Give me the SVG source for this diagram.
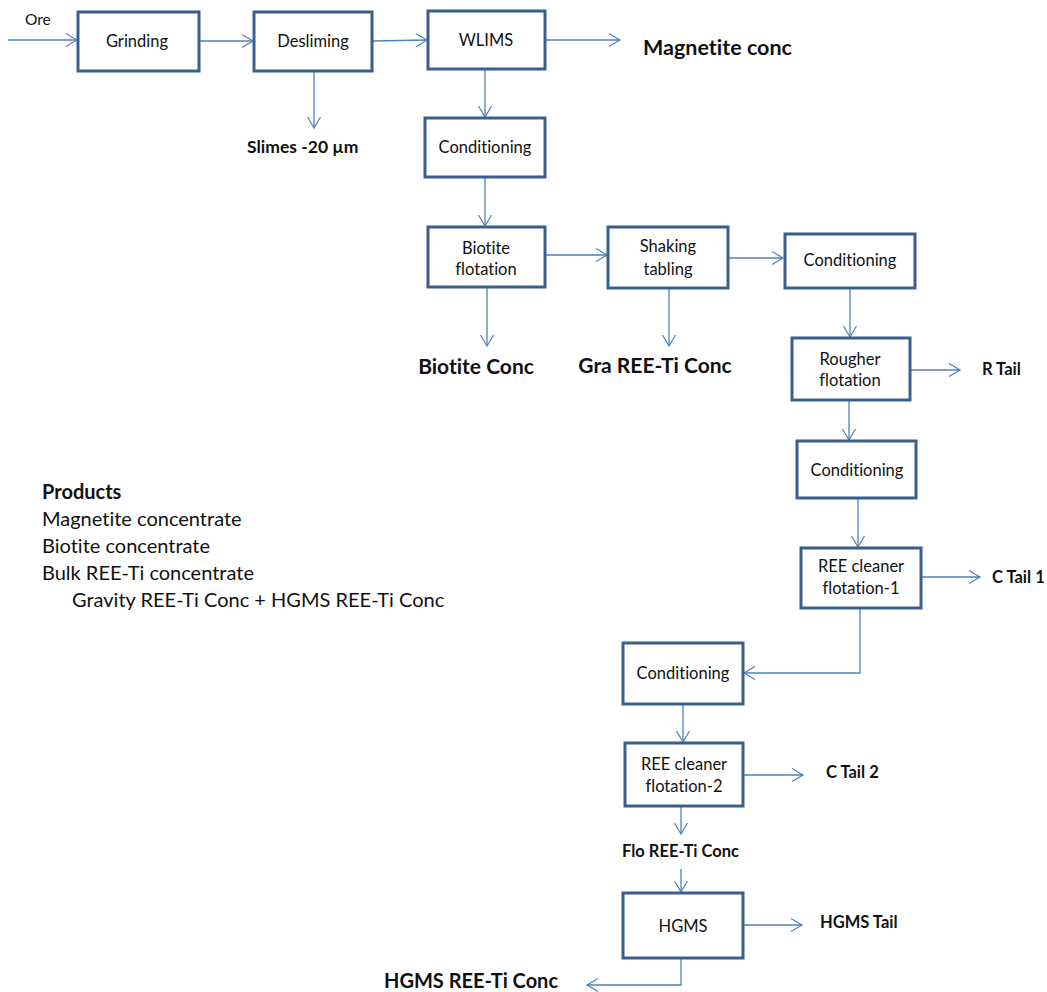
<svg xmlns="http://www.w3.org/2000/svg" width="1047" height="992" viewBox="0 0 1047 992">
<defs>
<marker id="arr" markerUnits="userSpaceOnUse" markerWidth="14" markerHeight="16" refX="12" refY="8" orient="auto">
<path d="M1,1.5 L12,8 L1,14.5" fill="none" stroke="#4F81BD" stroke-width="1.2"/>
</marker>
<style>
text{font-variant-ligatures:none}
.box{fill:#fff;stroke:#3A5F8F;stroke-width:3}
.t{font-family:Lato,"Open Sans","Liberation Sans",sans-serif;font-size:16.5px;fill:#111;text-anchor:middle}
.c{fill:none;stroke:#4F81BD;stroke-width:1.3;marker-end:url(#arr)}
.lb{font-family:Lato,"Open Sans","Liberation Sans",sans-serif;font-weight:bold;fill:#111}
.p{font-family:Lato,"Open Sans","Liberation Sans",sans-serif;font-size:20px;fill:#111}
</style>
</defs>
<rect width="1047" height="992" fill="#fff"/>
<g id="connectors">
<path class="c" d="M8,40 H77"/>
<path class="c" d="M199,41 H253"/>
<path class="c" d="M372,41 L427,40"/>
<path class="c" d="M545,40 H620"/>
<path class="c" d="M314,71 V128"/>
<path class="c" d="M485,69 V117"/>
<path class="c" d="M485,177 V226"/>
<path class="c" d="M545,255 H607"/>
<path class="c" d="M728,258 H783"/>
<path class="c" d="M487,287 V346"/>
<path class="c" d="M669,288 V346"/>
<path class="c" d="M850,288 V337"/>
<path class="c" d="M910,370 H960"/>
<path class="c" d="M849,400 V440"/>
<path class="c" d="M858,498 V547"/>
<path class="c" d="M921,577 H980"/>
<path class="c" d="M860,608 V673 H744"/>
<path class="c" d="M683,704 V742"/>
<path class="c" d="M743,775 H803"/>
<path class="c" d="M681,806 V834"/>
<path class="c" d="M681,869 V892"/>
<path class="c" d="M743,925 H802"/>
<path class="c" d="M681,958 V985 H587"/>
</g>
<g id="grinding"><rect class="box" x="78" y="12" width="121" height="59"/><text class="t" x="137" y="47">Grinding</text></g>
<g id="desliming"><rect class="box" x="254" y="12" width="118" height="59"/><text class="t" x="313" y="47">Desliming</text></g>
<g id="wlims"><rect class="box" x="428" y="11" width="117" height="58"/><text class="t" x="486" y="46">WLIMS</text></g>
<g id="conditioning1"><rect class="box" x="425" y="118" width="120" height="59"/><text class="t" x="485" y="153">Conditioning</text></g>
<g id="biotite-flotation"><rect class="box" x="428" y="227" width="117" height="60"/><text class="t" x="486" y="254">Biotite</text><text class="t" x="486" y="275">flotation</text></g>
<g id="shaking-tabling"><rect class="box" x="608" y="227" width="120" height="61"/><text class="t" x="668" y="252">Shaking</text><text class="t" x="668" y="275">tabling</text></g>
<g id="conditioning2"><rect class="box" x="785" y="234" width="130" height="54"/><text class="t" x="850" y="266">Conditioning</text></g>
<g id="rougher-flotation"><rect class="box" x="792" y="338" width="118" height="62"/><text class="t" x="850" y="365">Rougher</text><text class="t" x="850" y="386">flotation</text></g>
<g id="conditioning3"><rect class="box" x="797" y="441" width="119" height="57"/><text class="t" x="857" y="476">Conditioning</text></g>
<g id="ree-cleaner-1"><rect class="box" x="801" y="548" width="120" height="60"/><text class="t" x="861" y="572">REE cleaner</text><text class="t" x="861" y="594">flotation-1</text></g>
<g id="conditioning4"><rect class="box" x="623" y="643" width="120" height="61"/><text class="t" x="683" y="679">Conditioning</text></g>
<g id="ree-cleaner-2"><rect class="box" x="625" y="743" width="118" height="63"/><text class="t" x="684" y="770">REE cleaner</text><text class="t" x="684" y="792">flotation-2</text></g>
<g id="hgms"><rect class="box" x="623" y="893" width="120" height="65"/><text class="t" x="683" y="932">HGMS</text></g>
<g id="labels">
<text class="lb" x="25" y="25" style="font-weight:normal;font-size:15.5px">Ore</text>
<text class="lb" x="643" y="55" font-size="21.5">Magnetite conc</text>
<text class="lb" x="247" y="153" font-size="17.5">Slimes -20 µm</text>
<text class="lb" x="476" y="374" font-size="21" text-anchor="middle">Biotite Conc</text>
<text class="lb" x="655" y="373" font-size="21" text-anchor="middle">Gra REE-Ti Conc</text>
<text class="lb" x="982" y="375" font-size="16.5">R Tail</text>
<text class="lb" x="992" y="583" font-size="16.5">C Tail 1</text>
<text class="lb" x="826" y="778" font-size="16.5">C Tail 2</text>
<text class="lb" x="622" y="857" font-size="16.5">Flo REE-Ti Conc</text>
<text class="lb" x="820" y="928" font-size="16.5">HGMS Tail</text>
<text class="lb" x="384" y="988" font-size="20">HGMS REE-Ti Conc</text>
</g>
<g id="products">
<text class="p" x="42" y="499" font-weight="bold">Products</text>
<text class="p" x="42" y="526">Magnetite concentrate</text>
<text class="p" x="42" y="553">Biotite concentrate</text>
<text class="p" x="42" y="580">Bulk REE-Ti concentrate</text>
<text class="p" x="72" y="607">Gravity REE-Ti Conc + HGMS REE-Ti Conc</text>
</g>
</svg>
